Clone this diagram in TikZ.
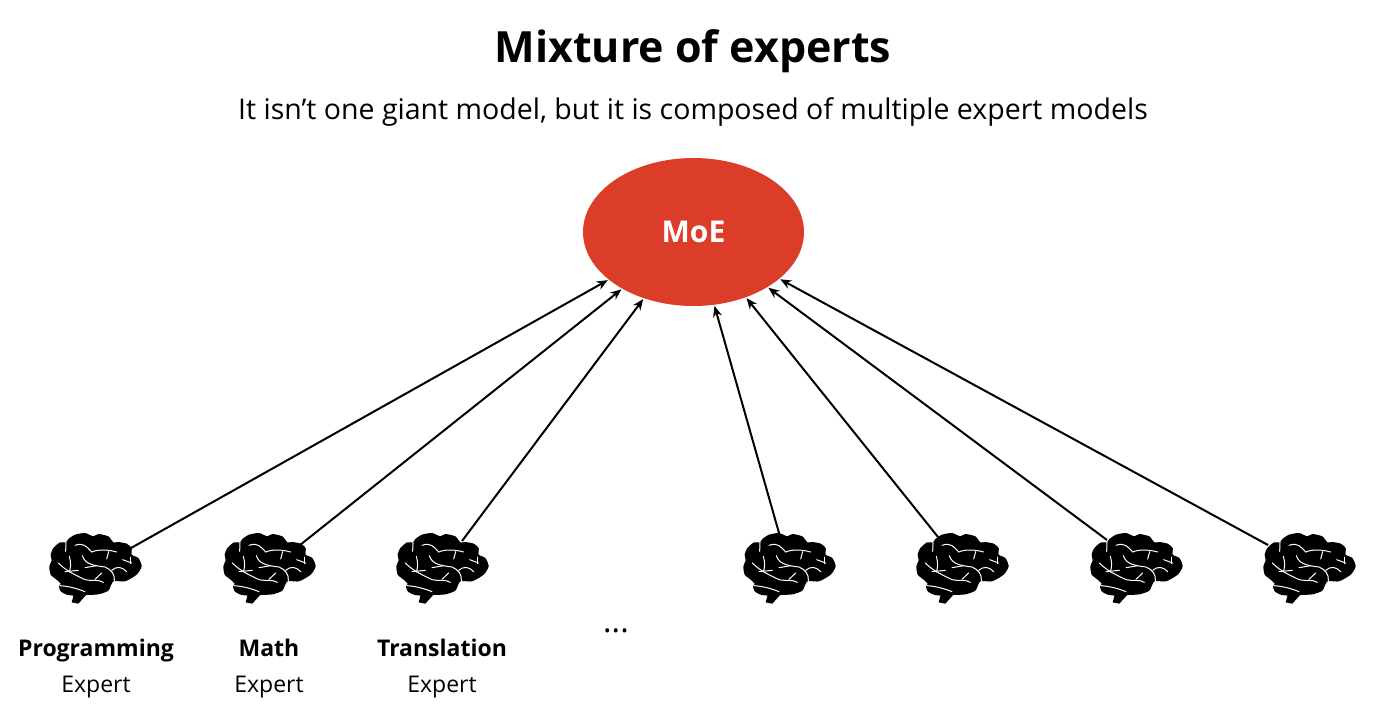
\documentclass[tikz,border=0pt]{standalone}
\usepackage{fontspec}
\setmainfont{Open Sans}
\usetikzlibrary{positioning,arrows.meta,shapes.geometric}
\definecolor{moered}{HTML}{DB3D28}
\tikzset{
  brain/.pic={
    \begin{scope}[scale=1/3,shift={(-195,-145)}]
      \fill[black] plot[smooth cycle,tension=0.4] coordinates {(135,228) (170,226) (205,224) (235,213) (250,185) (285,185) (320,165) (335,140) (325,115) (305,105) (305,85) (290,72) (265,67) (250,68) (235,50) (205,43) (190,50) (165,40) (135,45) (115,58) (108,68) (90,68) (70,85) (62,105) (65,122) (58,140) (62,165) (80,180) (92,192) (87,200) (92,215) (110,225)};
      \fill[black] (125,248) -- (145,252) -- (172,222) -- (132,222) -- cycle;
      \draw[crease] (135,77) .. controls (160,68) and (170,80) .. (185,97) .. controls (205,88) and (235,90) .. (260,97);
      \draw[crease] (236,96) -- (230,118);
      \draw[crease] (157,108) .. controls (165,135) and (195,138) .. (225,142) .. controls (245,150) and (255,165) .. (253,183);
      \draw[crease] (165,144) -- (200,138);
      \draw[crease] (245,152) .. controls (260,138) and (278,142) .. (290,156);
      \draw[crease] (118,110) .. controls (124,130) and (122,145) .. (118,157);
      \draw[crease] (85,130) .. controls (110,155) and (135,165) .. (165,180) .. controls (185,185) and (205,178) .. (220,188);
      \draw[crease] (195,179) -- (215,160);
      \draw[crease] (105,156) -- (145,152);
      \draw[crease] (90,198) .. controls (120,200) and (145,208) .. (165,216);
      \draw[crease] (278,120) -- (305,130);
      \draw[crease] (300,112) -- (300,132);
      \draw[crease] (108,68) -- (107,95);
    \end{scope}
  },
  crease/.style={white,line width=1pt,line cap=round},
  conn/.style={-{Stealth[length=11pt,width=9pt]},line width=2pt,shorten >=1pt},
  skill/.style={anchor=base,font=\fontsize{23}{28}\selectfont\bfseries},
  role/.style={anchor=base,font=\fontsize{23}{28}\selectfont}
}
\begin{document}
\begin{tikzpicture}[x=1pt,y=-1pt]
  \useasboundingbox (0,0) rectangle (1396,710);
  \node[anchor=base,font=\fontsize{43}{54}\selectfont\bfseries] (title) at (693,62) {Mixture of experts};
  \node[anchor=base,font=\fontsize{28.5}{34}\selectfont] (subtitle) at (693,119) {It isn’t one giant model, but it is composed of multiple expert models};
  \node[ellipse,fill=moered,minimum width=221pt,minimum height=148pt,inner sep=0pt,text=white,font=\fontsize{30}{34}\selectfont\bfseries] (moe) at (693.5,232) {MoE};

  \pic at (95,568) {brain};
  \pic at (269,568) {brain};
  \pic at (442,568) {brain};
  \pic at (789,568) {brain};
  \pic at (962,568) {brain};
  \pic at (1136,568) {brain};
  \pic at (1309,568) {brain};

  \coordinate (s1) at (131,548);
  \coordinate (s2) at (300,545);
  \coordinate (s3) at (462,541);
  \coordinate (s4) at (779,533);
  \coordinate (s5) at (938,537);
  \coordinate (s6) at (1107,540);
  \coordinate (s7) at (1268,545);
  \draw[conn] (s1) -- (moe);
  \draw[conn] (s2) -- (moe);
  \draw[conn] (s3) -- (moe);
  \draw[conn] (s4) -- (moe);
  \draw[conn] (s5) -- (moe);
  \draw[conn] (s6) -- (moe);
  \draw[conn] (s7) -- (moe);

  \node[skill] (l1) at (96,656) {Programming};
  \node[role] (e1) at (96,692) {Expert};
  \node[skill] (l2) at (269,656) {Math};
  \node[role] (e2) at (269,692) {Expert};
  \node[skill] (l3) at (442,656) {Translation};
  \node[role] (e3) at (442,692) {Expert};
  \node[anchor=base,font=\fontsize{32}{34}\selectfont] (dots) at (616,632) {...};
\end{tikzpicture}
\end{document}
